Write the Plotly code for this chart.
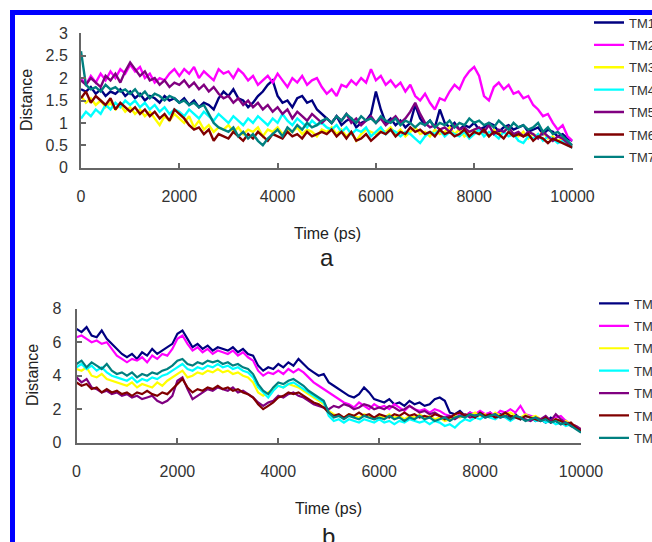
import plotly.graph_objects as go

W, H = 652, 542
time_ps = [i * 100 for i in range(101)]
names = ["TM1", "TM2", "TM3", "TM4", "TM5", "TM6", "TM7"]
colors = ["#000080", "#ff00ff", "#ffff00", "#00ffff", "#800080", "#800000", "#008080"]

# ---------- panel a ----------
a_tm1 = [1.75, 1.7, 1.8, 1.65, 1.75, 1.6, 1.7, 1.65, 1.75, 1.6,
         1.7, 1.55, 1.65, 1.5, 1.6, 1.55, 1.45, 1.6, 1.5, 1.55,
         1.45, 1.55, 1.4, 1.5, 1.35, 1.45, 1.4, 1.3, 1.55, 1.7,
         1.6, 1.75, 1.55, 1.5, 1.35, 1.45, 1.6, 1.7, 1.85, 1.95,
         1.6, 1.45, 1.5, 1.35, 1.55, 1.6, 1.45, 1.5, 1.3, 1.2,
         1.1, 1.0, 1.15, 0.95, 1.05, 1.1, 0.9, 1.0, 1.05, 1.2,
         1.7, 1.3, 1.0, 1.1, 0.95, 1.05, 0.9, 1.0, 1.4, 1.1,
         0.95, 1.05, 0.9, 1.3, 1.0, 0.9, 1.0, 0.85, 0.95, 0.9,
         1.0, 0.85, 0.9, 1.0, 0.95, 0.8, 0.9, 0.95, 0.85, 0.9,
         0.95, 0.8, 0.85, 0.9, 0.75, 0.85, 0.8, 0.7, 0.75, 0.65, 0.6]
a_tm2 = [2.0, 1.85, 2.05, 1.9, 2.1, 1.95, 2.15, 2.0, 2.2, 2.1,
         2.3, 2.15, 2.25, 2.0, 2.1, 1.9, 2.0, 1.95, 2.1, 2.2,
         2.05, 2.2, 2.1, 2.25, 2.0, 2.15, 2.05, 1.95, 2.2, 2.1,
         2.15, 2.0, 2.2, 2.1, 1.95, 2.05, 1.85, 1.95, 2.05, 1.9,
         2.1, 1.95, 1.8, 2.0, 1.9, 2.05, 1.85, 1.95, 2.0, 1.8,
         1.65, 1.75, 1.6, 1.85, 1.8, 1.95, 1.85, 2.0, 1.9, 2.2,
         1.95, 2.05, 1.85, 1.95, 1.8, 1.9, 1.7, 1.85, 1.6, 1.5,
         1.65, 1.45, 1.3, 1.55, 1.5, 1.7, 1.85, 1.75, 2.0, 2.15,
         2.25, 2.05, 1.6, 1.5, 1.8, 1.9, 1.75, 1.85, 1.65, 1.7,
         1.55, 1.6, 1.4, 1.3, 1.15, 1.2, 1.0, 0.85, 0.95, 0.7, 0.6]
a_tm3 = [1.6, 1.45, 1.55, 1.4, 1.5, 1.35, 1.45, 1.3, 1.4, 1.25,
         1.35, 1.2, 1.3, 1.15, 1.25, 1.1, 0.95, 1.15, 1.05, 1.2,
         1.1, 1.0, 1.15, 0.9, 1.05, 0.85, 0.95, 0.8, 0.9, 0.85,
         0.95, 0.8, 0.9, 0.75, 0.85, 0.8, 0.9, 0.7, 0.85, 0.8,
         0.9, 0.75, 0.85, 0.8, 0.9, 0.75, 0.85, 0.8, 0.7, 0.85,
         0.8, 0.9, 0.75, 0.85, 0.7, 0.8, 0.6, 0.75, 0.85, 0.8,
         0.75, 0.85, 0.8, 0.9, 0.75, 0.85, 0.7, 0.8, 0.9, 0.75,
         0.8, 0.7, 0.85, 0.75, 0.8, 0.9, 0.75, 0.85, 0.7, 0.8,
         0.85, 0.75, 0.8, 0.7, 0.85, 0.75, 0.8, 0.9, 0.75, 0.7,
         0.8, 0.65, 0.75, 0.7, 0.8, 0.65, 0.7, 0.6, 0.65, 0.55, 0.5]
a_tm4 = [1.1, 1.25, 1.15, 1.3, 1.2, 1.4, 1.3, 1.45, 1.35, 1.5,
         1.4, 1.5, 1.35, 1.45, 1.3, 1.4, 1.25, 1.35, 1.2, 1.3,
         1.25, 1.15, 1.3, 1.2, 1.1, 1.25, 1.15, 1.05, 1.2, 1.1,
         1.0, 1.15, 1.05, 0.95, 1.1, 1.0, 1.15, 1.05, 0.95, 1.1,
         1.0, 1.2, 1.05, 0.95, 1.1, 1.0, 0.9, 1.05, 0.95, 1.0,
         0.9, 0.85, 0.95, 0.8, 0.9, 0.75, 0.85, 0.8, 0.9, 0.7,
         0.8, 0.9, 0.75, 0.85, 0.8, 0.7, 0.8, 0.75, 0.65, 0.55,
         0.7, 0.8, 0.75, 0.85, 0.7, 0.8, 0.75, 0.7, 0.8, 0.65,
         0.75, 0.85, 0.7, 0.8, 0.75, 0.65, 0.8, 0.7, 0.75, 0.6,
         0.55, 0.7, 0.65, 0.75, 0.6, 0.7, 0.65, 0.55, 0.6, 0.5, 0.45]
a_tm5 = [1.95, 1.85, 2.0, 1.9, 1.8, 2.05, 1.95, 2.1, 1.9, 2.15,
         2.35, 2.2, 2.05, 2.15, 1.95, 2.0, 1.85, 1.95, 1.8, 1.9,
         1.85, 1.95, 1.8, 1.9, 1.75, 1.85, 1.7, 1.8, 1.65, 1.55,
         1.6, 1.45, 1.55, 1.4, 1.5, 1.35, 1.45, 1.3, 1.4, 1.25,
         1.35, 1.2, 1.3, 1.1, 1.25, 1.15, 1.05, 1.2, 1.1, 1.0,
         1.1, 1.0, 1.15, 1.05, 1.2, 1.0, 1.1, 0.95, 1.05, 1.15,
         1.0, 1.1, 0.95, 1.05, 1.15, 1.0, 1.1, 1.25, 1.45, 1.2,
         1.0, 0.9, 0.95, 0.85, 0.9, 0.8, 0.95, 0.85, 0.9, 0.8,
         0.85, 0.9, 0.8, 0.95, 0.75, 0.85, 0.8, 0.9, 0.75, 0.8,
         0.7, 0.8, 0.75, 0.65, 0.8, 0.7, 0.6, 0.7, 0.65, 0.55, 0.5]
a_tm6 = [1.55, 1.7, 1.45, 1.6, 1.5, 1.4, 1.55, 1.3, 1.45, 1.35,
         1.25, 1.35, 1.2, 1.3, 1.15, 1.25, 1.1, 1.2, 1.05, 1.3,
         1.2, 1.1, 0.95, 0.85, 0.9, 0.75, 0.85, 0.6, 0.75, 0.7,
         0.65, 0.8, 0.7, 0.6, 0.75, 0.65, 0.8, 0.7, 0.6, 0.75,
         0.7, 0.65, 0.8, 0.7, 0.75, 0.65, 0.8, 0.7, 0.75, 0.8,
         0.75, 0.85, 0.7, 0.8, 0.65, 0.8, 0.6, 0.65, 0.75, 0.6,
         0.7, 0.8, 0.75, 0.85, 0.7, 0.8, 0.75, 0.9, 0.8, 0.85,
         0.75, 0.8, 0.7, 0.85, 0.75, 0.8, 0.7, 0.75, 0.85, 0.7,
         0.8, 0.75, 0.85, 0.7, 0.8, 0.75, 0.65, 0.8, 0.7, 0.75,
         0.7, 0.75, 0.6, 0.7, 0.65, 0.55, 0.65, 0.6, 0.55, 0.5, 0.45]
a_tm7 = [2.6, 1.85, 1.75, 1.8, 1.7, 1.85, 1.75, 1.8, 1.7, 1.75,
         1.65, 1.75, 1.6, 1.7, 1.55, 1.65, 1.6, 1.5, 1.6, 1.55,
         1.45, 1.5, 1.4, 1.45, 1.35, 1.4, 1.2, 1.0, 0.9, 0.85,
         0.8, 0.9, 0.7, 0.8, 0.65, 0.75, 0.6, 0.5, 0.65, 0.75,
         0.85, 0.7, 0.9, 0.8, 0.95, 0.85, 1.0, 0.9, 0.95, 1.05,
         1.1, 1.0, 1.15, 1.05, 1.2, 1.1, 1.0, 1.15, 1.05, 1.1,
         1.0, 1.15, 1.05, 1.0, 1.1, 0.95, 1.05, 1.0, 0.9, 1.0,
         0.95, 1.05, 0.9, 1.0, 0.95, 1.05, 0.9, 1.0, 0.95, 1.1,
         1.0, 1.05, 0.95, 1.0, 0.9, 1.05, 0.95, 0.85, 1.0, 0.9,
         0.95, 0.85, 0.9, 1.0, 0.8, 0.9, 0.75, 0.8, 0.7, 0.6, 0.5]

# ---------- panel b ----------
b_tm1 = [6.8, 6.6, 6.9, 6.4, 6.3, 6.7, 6.2, 5.9, 5.6, 5.3,
         5.1, 5.3, 5.0, 5.4, 5.2, 5.6, 5.3, 5.5, 5.7, 5.9,
         6.5, 6.7, 6.2, 5.7, 5.9, 5.6, 5.8, 5.5, 5.7, 5.6,
         5.5, 5.7, 5.4, 5.6, 5.3, 5.2, 4.6, 4.3, 4.5, 4.4,
         4.7, 4.5, 4.8, 4.6, 5.0, 4.7, 4.4, 4.2, 4.0, 4.1,
         3.6, 3.4, 3.2, 3.0, 2.8, 2.7, 2.9, 3.3, 3.0, 2.6,
         2.5, 2.4, 2.6, 2.3, 2.4, 2.2, 2.5, 2.3, 2.4, 2.2,
         2.3, 2.6, 2.7, 2.5, 1.8, 1.7, 1.9, 1.6, 1.8, 1.5,
         1.7, 1.6, 1.8, 1.5, 1.7, 1.6, 1.5, 1.7, 1.4, 1.6,
         1.5, 1.3, 1.4, 1.2, 1.5, 1.3, 1.1, 1.3, 1.0, 0.9, 0.7]
b_tm2 = [6.3, 6.4, 6.2, 6.0, 6.1, 5.9, 6.0, 5.6, 5.2, 5.0,
         4.8, 5.0, 4.9, 5.1, 4.8, 5.2, 5.0, 5.3, 5.2, 5.6,
         6.2, 6.4, 5.9, 5.5, 5.7, 5.4, 5.6, 5.3, 5.5, 5.4,
         5.3, 5.5, 5.2, 5.4, 5.1, 4.9, 4.3, 4.0, 4.2, 4.1,
         4.3, 4.1, 4.4, 4.2, 4.4, 4.2, 3.9, 3.6, 3.4, 3.2,
         3.0, 2.8, 2.6, 2.4, 2.3, 2.1, 2.4, 2.2, 2.0, 2.3,
         2.1, 2.2, 2.0, 2.3, 2.1, 1.9, 2.2, 2.0, 1.9, 2.0,
         1.8, 2.0, 1.9, 1.7, 1.6, 1.5, 1.7, 1.6, 1.8, 1.7,
         1.9, 1.7, 1.8, 1.6, 1.9, 1.8, 2.0, 1.8, 2.2, 1.7,
         1.6, 1.5, 1.3, 1.4, 1.2, 1.5, 1.6, 1.3, 1.1, 1.0, 0.8]
b_tm3 = [4.4, 4.3, 4.5, 4.0, 3.9, 4.1, 3.8, 3.7, 3.6, 3.5,
         3.4, 3.6, 3.3, 3.5, 3.4, 3.3, 3.6, 3.4, 3.7, 3.9,
         4.1, 4.3, 3.9, 4.0, 4.2, 4.1, 4.3, 4.2, 4.4, 4.2,
         4.3, 4.1, 4.2, 4.0, 3.9, 3.6, 3.0, 2.8, 3.0, 3.2,
         3.4, 3.3, 3.5, 3.4, 3.3, 3.1, 2.9, 2.7, 2.5, 2.3,
         1.9, 1.7, 1.6, 1.5, 1.7, 1.6, 1.5, 1.7, 1.6, 1.4,
         1.6, 1.5, 1.7, 1.5, 1.6, 1.4, 1.6, 1.5, 1.7, 1.5,
         1.6, 1.4, 1.5, 1.3, 1.4, 1.6, 1.5, 1.7, 1.6, 1.8,
         1.6, 1.7, 1.5, 1.8, 1.6, 1.7, 1.8, 1.6, 1.5, 1.7,
         1.5, 1.6, 1.4, 1.5, 1.3, 1.4, 1.2, 1.3, 1.1, 1.0, 0.8]
b_tm4 = [4.5, 4.7, 4.4, 4.6, 4.3, 4.5, 4.2, 4.0, 3.9, 3.8,
         3.7, 3.9, 3.6, 3.8, 3.7, 3.9, 3.8, 4.0, 4.1, 4.3,
         4.5, 4.7, 4.4, 4.3, 4.5, 4.4, 4.6, 4.5, 4.7, 4.5,
         4.6, 4.4, 4.5, 4.3, 4.2, 3.9, 3.3, 3.0, 2.7, 3.1,
         3.4, 3.3, 3.5, 3.6, 3.4, 3.2, 3.0, 2.8, 2.6, 2.4,
         1.6, 1.3, 1.4, 1.2, 1.4, 1.3, 1.2, 1.4, 1.3, 1.2,
         1.4, 1.2, 1.3, 1.1, 1.3, 1.2, 1.4, 1.3, 1.2, 1.3,
         1.1, 1.3, 1.2, 1.0, 1.1, 0.9, 1.2, 1.4, 1.3, 1.5,
         1.4, 1.6, 1.5, 1.4, 1.6, 1.5, 1.3, 1.5, 1.4, 1.6,
         1.5, 1.3, 1.4, 1.2, 1.3, 1.1, 1.2, 1.0, 1.1, 0.9, 0.7]
b_tm5 = [3.9, 3.6, 3.8, 3.3, 3.2, 3.0, 3.1, 2.9, 3.0, 2.8,
         2.9, 2.7, 2.8, 2.6, 2.7, 2.8, 2.5, 2.35, 2.5, 2.8,
         3.7, 3.9, 3.2, 2.6, 2.8, 3.0, 3.2, 3.1, 3.3, 3.2,
         3.1, 3.3, 3.0, 3.1, 2.9, 2.7, 2.4, 2.2, 2.4, 2.5,
         2.8, 2.7, 2.9, 3.0, 2.8, 2.7, 2.5, 2.3, 2.2, 2.1,
         2.0, 2.2, 2.1, 2.3, 2.2, 2.0, 2.1, 2.3, 2.2, 2.0,
         2.1, 2.0, 2.2, 2.1, 1.9, 2.0, 2.2, 2.0, 1.8, 1.9,
         1.7, 1.8, 1.6, 1.5, 1.6, 1.4, 1.6, 1.7, 1.5, 1.6,
         1.7, 1.5, 1.6, 1.7, 1.5, 1.6, 1.4, 1.6, 1.5, 1.4,
         1.3, 1.5, 1.4, 1.6, 1.3, 1.7, 1.4, 1.2, 1.1, 1.0, 0.8]
b_tm6 = [3.6, 3.4, 3.5, 3.2, 3.3, 3.0, 3.2, 3.0, 3.1, 2.9,
         3.0, 2.8, 3.0, 2.9, 3.1, 2.9, 2.8, 3.0, 2.9, 3.2,
         3.5, 3.8, 3.3, 3.0, 3.2, 3.1, 3.3, 3.2, 3.4, 3.2,
         3.3, 3.1, 3.2, 3.0, 2.9, 2.7, 2.3, 2.0, 2.2, 2.4,
         2.7, 2.8, 3.0, 2.9, 3.0, 2.8, 2.6, 2.4, 2.3, 2.1,
         1.8, 1.6, 1.7, 1.5, 1.7, 1.6, 1.8, 1.6, 1.7, 1.5,
         1.7, 1.6, 1.5, 1.7, 1.6, 1.8, 1.6, 1.7, 1.5, 1.6,
         1.5, 1.7, 1.6, 1.4, 1.5, 1.7, 1.8, 1.6, 1.7, 1.5,
         1.8, 1.6, 1.7, 1.5, 1.6, 1.8, 1.6, 1.5, 1.4, 1.6,
         1.5, 1.4, 1.3, 1.5, 1.2, 1.4, 1.3, 1.1, 1.2, 0.9, 0.7]
b_tm7 = [4.7, 4.9, 4.5, 4.8, 4.6, 4.4, 4.7, 4.3, 4.1, 4.2,
         4.0, 4.2, 3.9, 4.1, 4.0, 4.2, 4.1, 4.3, 4.4, 4.6,
         4.9, 5.0, 4.7, 4.6, 4.8, 4.7, 4.9, 4.8, 4.9, 4.7,
         4.8, 4.6, 4.7, 4.5, 4.4, 4.1, 3.5, 3.1, 2.9, 3.3,
         3.6, 3.5, 3.7, 3.8, 3.6, 3.4, 3.1, 2.9, 2.7, 2.5,
         1.8, 1.5, 1.6, 1.4, 1.6, 1.5, 1.4, 1.6, 1.5, 1.4,
         1.5, 1.4, 1.6, 1.4, 1.5, 1.3, 1.5, 1.4, 1.6, 1.4,
         1.5, 1.3, 1.4, 1.5, 1.3, 1.5, 1.6, 1.5, 1.7, 1.6,
         1.7, 1.5, 1.6, 1.7, 1.5, 1.6, 1.4, 1.6, 1.5, 1.3,
         1.4, 1.5, 1.3, 1.4, 1.2, 1.3, 1.1, 1.2, 1.0, 0.8, 0.6]

x_ticks = [0, 2000, 4000, 6000, 8000, 10000]
x_ticktext = ["0", "2000", "4000", "6000", "8000", "10000"]
a_yticks = [0, 0.5, 1, 1.5, 2, 2.5, 3]
a_yticktext = ["0", "0.5", "1", "1.5", "2", "2.5", "3"]
b_yticks = [0, 2, 4, 6, 8]
b_yticktext = ["0", "2", "4", "6", "8"]

panel_a = [a_tm1, a_tm2, a_tm3, a_tm4, a_tm5, a_tm6, a_tm7]
panel_b = [b_tm1, b_tm2, b_tm3, b_tm4, b_tm5, b_tm6, b_tm7]

FONT = "Liberation Sans, Arial, sans-serif"
fig = go.Figure()
for name, col, ys in zip(names, colors, panel_a):
    fig.add_trace(go.Scatter(x=time_ps, y=ys, mode="lines", name=name,
                             legendgroup="a" + name,
                             line=dict(color=col, width=2.4),
                             xaxis="x", yaxis="y", legend="legend"))
for name, col, ys in zip(names, colors, panel_b):
    fig.add_trace(go.Scatter(x=time_ps, y=ys, mode="lines", name=name,
                             legendgroup="b" + name,
                             line=dict(color=col, width=2.2),
                             xaxis="x2", yaxis="y2", legend="legend2"))

def px_x(p):
    return p / W

def px_y(p):
    return 1 - p / H

axis_common = dict(showgrid=False, zeroline=False, showline=True, linecolor="#666",
                   linewidth=2, ticks="inside", ticklen=5, tickwidth=1.5, tickcolor="#666",
                   tickfont=dict(family=FONT, size=16, color="#333"))

legend_common = dict(xanchor="left", yanchor="top", bgcolor="rgba(0,0,0,0)",
                     font=dict(family=FONT, size=13, color="#333"),
                     traceorder="grouped", tracegroupgap=2.5)

fig.update_layout(
    width=W, height=H, margin=dict(l=0, r=0, t=0, b=0, autoexpand=False),
    paper_bgcolor="white", plot_bgcolor="white",
    font=dict(family=FONT, color="#333"),
    xaxis=dict(domain=[px_x(81), px_x(572.5)], range=[0, 10000], tickvals=x_ticks,
               ticktext=x_ticktext, anchor="y", ticklabelstandoff=13, **axis_common),
    yaxis=dict(domain=[px_y(167.7), px_y(33.3)], range=[0, 3], tickvals=a_yticks,
               ticktext=a_yticktext, anchor="x", ticklabelstandoff=8, **axis_common),
    xaxis2=dict(domain=[px_x(76.5), px_x(581)], range=[0, 10000], tickvals=x_ticks,
                ticktext=x_ticktext, anchor="y2", ticklabelstandoff=13, **axis_common),
    yaxis2=dict(domain=[px_y(442.7), px_y(308.7)], range=[0, 8], tickvals=b_yticks,
                ticktext=b_yticktext, anchor="x2", ticklabelstandoff=10, **axis_common),
    legend=dict(x=px_x(589), y=px_y(7.5), **legend_common),
    legend2=dict(x=px_x(594), y=px_y(288.5), **legend_common),
    showlegend=True,
)

anns = [
    dict(text="Distance", x=px_x(27), y=px_y(100), textangle=-90, size=16),
    dict(text="Time (ps)", x=px_x(327), y=px_y(233), textangle=0, size=16),
    dict(text="a", x=px_x(327), y=px_y(257), textangle=0, size=24),
    dict(text="Distance", x=px_x(32), y=px_y(375), textangle=-90, size=16),
    dict(text="Time (ps)", x=px_x(328), y=px_y(508), textangle=0, size=16),
    dict(text="b", x=px_x(328), y=px_y(536), textangle=0, size=24),
]
for a in anns:
    fig.add_annotation(text=a["text"], x=a["x"], y=a["y"], xref="paper", yref="paper",
                       showarrow=False, textangle=a["textangle"], xanchor="center",
                       yanchor="middle", font=dict(family=FONT, size=a["size"], color="#222"))

fig.add_shape(type="rect", xref="paper", yref="paper",
              x0=px_x(12.5), x1=px_x(680), y0=px_y(12.5), y1=px_y(580),
              line=dict(color="#0000ff", width=5), fillcolor="rgba(0,0,0,0)", layer="above")

fig.write_html("out.html", config={"displayModeBar": False},
               post_script="document.body.style.margin='0';document.body.style.overflow='hidden';")
